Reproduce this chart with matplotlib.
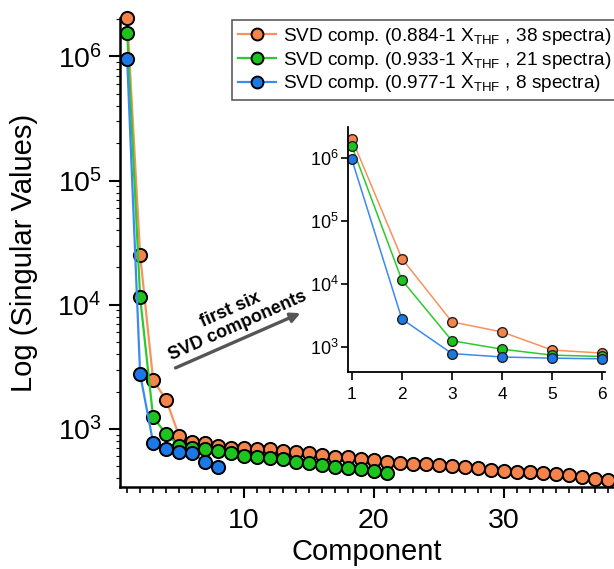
import matplotlib
matplotlib.use("Agg")
import matplotlib.pyplot as plt
import numpy as np

plt.rcParams['font.family'] = ['Liberation Sans', 'DejaVu Sans']
plt.rcParams['mathtext.fontset'] = 'custom'
plt.rcParams['mathtext.rm'] = 'Liberation Sans'
plt.rcParams['mathtext.it'] = 'Liberation Sans:italic'

# ---- data ----
orange_vals = [2.05e6, 25300, 2480, 1714, 883, 790, 766, 734, 707, 698,
               690, 684, 668, 656, 637, 617, 598, 589, 573, 562,
               545, 535, 522, 519, 509, 502, 490, 482, 467, 458,
               453, 447, 439, 434, 426, 408, 393, 388]
green_vals = [1.56e6, 11500, 1243, 912, 733, 698, 685, 668, 637, 610,
              598, 581, 570, 545, 529, 513, 497, 482, 473, 458, 445]
blue_vals = [0.96e6, 2760, 776, 685, 656, 640, 545, 497]

labels = ["SVD comp. (0.884-1 X$_{\\mathrm{THF}}$ , 38 spectra)",
          "SVD comp. (0.933-1 X$_{\\mathrm{THF}}$ , 21 spectra)",
          "SVD comp. (0.977-1 X$_{\\mathrm{THF}}$ , 8 spectra)"]
series = [orange_vals, green_vals, blue_vals]
face_colors = ["#F5844C", "#1EC41E", "#1C78E6"]
line_colors = ["#F7925E", "#2BCB2B", "#3A8AF0"]

main_xticks = [10, 20, 30]
inset_xticks = [1, 2, 3, 4, 5, 6]
n_inset = 6

fig = plt.figure(figsize=(6.14, 5.69), dpi=100)
ax = fig.add_axes([120/614, 1-487/569, 494/614, (487-18)/569])

handles = []
for vals, fc, lc, lab in zip(series, face_colors, line_colors, labels):
    x = np.arange(1, len(vals)+1)
    h, = ax.plot(x, vals, '-o', color=lc, lw=1.6, markerfacecolor=fc,
                 markeredgecolor='black', markeredgewidth=1.4, markersize=9.5,
                 label=lab, clip_on=False)
    handles.append(h)

ax.set_yscale('log')
ax.set_xlim(0.45, 38.5)
ax.set_ylim(10**2.532, 10**6.31)
ax.set_xticks(main_xticks)
ax.set_xticks(np.arange(1, 39), minor=True)
ax.set_xticklabels([str(t) for t in main_xticks])
for s in ['top', 'right']:
    ax.spines[s].set_visible(False)
for s in ['left', 'bottom']:
    ax.spines[s].set_linewidth(1.8)
ax.tick_params(axis='both', which='major', labelsize=20.5, width=1.5, length=8, direction='out')
ax.tick_params(axis='both', which='minor', width=1.2, length=4, direction='out')
ax.tick_params(axis='y', which='minor', length=3, width=0.8)
ax.tick_params(axis='y', which='major', pad=5)
ax.tick_params(axis='x', pad=7)
ax.set_xlabel("Component", fontsize=21, labelpad=3)
ax.set_ylabel("Log (Singular Values)", fontsize=21, labelpad=14)

leg = ax.legend(handles=handles, loc='upper left', bbox_to_anchor=(232/614, 1-20/569),
                bbox_transform=fig.transFigure, fontsize=13.7, frameon=True,
                fancybox=False, edgecolor='#333333', handlelength=2.0,
                handletextpad=0.4, borderpad=0.3, labelspacing=0.15, borderaxespad=0,
                markerscale=0.9)
leg.get_frame().set_linewidth(1.2)

# arrow + annotation
ax.annotate("", xy=(303/614, 1-312/569), xytext=(173/614, 1-369/569),
            xycoords='figure fraction', textcoords='figure fraction',
            arrowprops=dict(arrowstyle='-|>', color='#555555', lw=2.4,
                            mutation_scale=14))
fig.text(234/614, 1-318/569, "first six\nSVD components", rotation=24,
         fontsize=13, fontweight='bold', ha='center', va='center',
         rotation_mode='anchor', linespacing=1.05)

# inset
axi = fig.add_axes([348.3/614, 1-372/569, (604.7-348.3)/614, (372-126.7)/569])
for vals, fc, lc in zip(series, face_colors, line_colors):
    x = np.arange(1, n_inset+1)
    axi.plot(x, vals[:n_inset], '-o', color=lc, lw=1.1, markerfacecolor=fc,
             markeredgecolor='#222222', markeredgewidth=1.0, markersize=7,
             clip_on=False)
axi.set_yscale('log')
axi.set_xlim(0.93, 6.05)
axi.set_ylim(395, 3.18e6)
axi.set_xticks(inset_xticks)
axi.set_xticklabels([str(t) for t in inset_xticks])
axi.set_yticks([1e3, 1e4, 1e5, 1e6])
axi.yaxis.set_minor_locator(matplotlib.ticker.NullLocator())
for s in ['top', 'right']:
    axi.spines[s].set_visible(False)
for s in ['left', 'bottom']:
    axi.spines[s].set_linewidth(1.3)
axi.tick_params(axis='x', labelsize=12.5, width=1.2, length=6, pad=5)
axi.tick_params(axis='y', labelsize=13, width=1.2, length=5, pad=2)

fig.savefig("out.png", dpi=100)
